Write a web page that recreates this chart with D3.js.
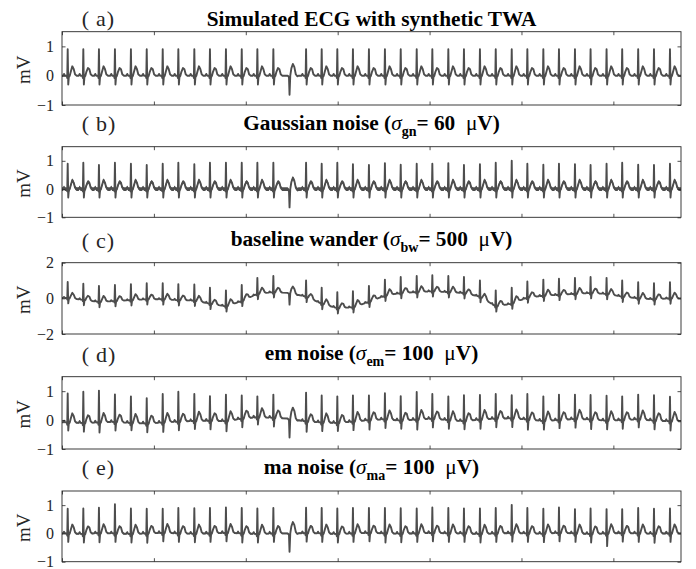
<!DOCTYPE html>
<html><head><meta charset="utf-8">
<script src="https://cdn.jsdelivr.net/npm/d3@7"></script>
</head><body style="margin:0;background:#fff">
<svg id="chart" width="696" height="569" font-family="Liberation Serif" style="display:block"></svg>
<script>
// ---------- data ----------
// R-peak times (s) of the 39 beats; beat 14 is the ectopic (PVC) beat
const beatTimes = [0.31,1.16,2.01,2.88,3.75,4.61,5.48,6.33,7.20,8.05,8.92,9.78,10.63,11.50,12.38,13.28,14.13,14.98,15.83,16.70,17.57,18.43,19.30,20.15,21.02,21.87,22.74,23.60,24.47,25.32,26.19,27.04,27.91,28.76,29.63,30.48,31.35,32.21,33.08];
const pvcIndex = 14;
// normal beat template: offsets from R (s) and values (mV); R = idx 5, S = idx 6, T = idx 10
const beatOffsets = [-0.25,-0.2,-0.15,-0.05,-0.025,0,0.03,0.06,0.11,0.16,0.25,0.33,0.4,0.48];
const beatShape   = [0,0.06,0,0,-0.08,0.9,-0.3,-0.05,0,0.12,0.3,0.22,0.05,0];
// ectopic beat template
const pvcOffsets = [-0.1,-0.03,0,0.04,0.1,0.18,0.26,0.34,0.42,0.5];
const pvcShape   = [0,-0.05,-0.65,0,0.25,0.4,0.3,0.05,-0.02,0];
// alternating T-wave amplitudes (TWA)
const tWave = [0.32,0.26,0.32,0.26,0.32,0.26,0.32,0.26,0.32,0.26,0.32,0.26,0.32,0.26,0.32,0.26,0.32,0.26,0.32,0.26,0.32,0.26,0.32,0.26,0.32,0.26,0.32,0.26,0.32,0.26,0.32,0.26,0.32,0.26,0.32,0.26,0.32,0.26,0.32];
// per-beat R amplitudes (above baseline)
const rPeakA = [0.9,0.9,0.9,0.9,0.9,0.9,0.9,0.9,0.9,0.9,0.9,0.9,0.9,0.9,0,0.9,0.9,0.9,0.9,0.9,0.9,0.9,0.9,0.9,0.9,0.9,0.9,0.9,0.9,0.9,0.9,0.9,0.9,0.9,0.9,0.9,0.9,0.9,0.9];
const rPeakB = [0.9,0.93,0.85,0.93,0.9,0.85,0.9,0.93,0.88,0.93,0.93,0.93,0.93,0.93,0,0.93,0.9,0.93,0.88,0.85,0.92,0.86,0.9,0.9,0.92,0.85,0.88,0.93,1.0,0.9,0.86,0.9,0.88,0.85,0.9,0.93,0.86,0.85,0.9];
const rPeakD = [1.0,1.08,1.1,0.95,0.92,0.88,0.98,1.03,0.93,0.85,0.92,0.8,0.72,0.8,0,1.0,0.93,0.92,0.9,0.85,0.9,0.85,0.95,0.85,0.82,0.9,0.85,0.85,0.8,0.88,0.85,0.88,0.84,0.85,0.86,0.82,0.85,0.88,0.85];
const rPeakE = [0.87,0.9,0.9,1.03,0.9,0.87,0.85,0.9,0.9,0.9,0.9,0.9,0.9,0.9,0,0.9,0.9,0.9,0.9,0.88,0.9,0.9,0.88,0.9,0.9,0.88,0.9,0.9,1.0,0.9,0.88,0.9,0.86,0.9,0.86,0.85,0.9,0.88,0.88];
// per-beat S depths
const sWaveStd = [-0.3,-0.3,-0.3,-0.3,-0.3,-0.3,-0.3,-0.3,-0.3,-0.3,-0.3,-0.3,-0.3,-0.3,-0.3,-0.3,-0.3,-0.3,-0.3,-0.3,-0.3,-0.3,-0.3,-0.3,-0.3,-0.3,-0.3,-0.3,-0.3,-0.3,-0.3,-0.3,-0.3,-0.3,-0.3,-0.3,-0.3,-0.3,-0.3];
const sWaveD = [-0.28,-0.3,-0.35,-0.3,-0.25,-0.3,-0.33,-0.3,-0.28,-0.3,-0.35,-0.3,-0.25,-0.3,-0.3,-0.35,-0.3,-0.28,-0.3,-0.33,-0.3,-0.28,-0.35,-0.3,-0.3,-0.28,-0.32,-0.3,-0.3,-0.35,-0.3,-0.28,-0.3,-0.33,-0.3,-0.3,-0.28,-0.3,-0.32];
const sWaveE = [-0.3,-0.3,-0.32,-0.3,-0.3,-0.33,-0.3,-0.3,-0.3,-0.3,-0.3,-0.32,-0.3,-0.3,-0.3,-0.3,-0.3,-0.3,-0.3,-0.3,-0.32,-0.3,-0.3,-0.3,-0.3,-0.3,-0.3,-0.3,-0.3,-0.3,-0.3,-0.3,-0.3,-0.3,-0.45,-0.3,-0.3,-0.32,-0.3];
// per-beat baseline levels (mV)
const baseZero = [0,0,0,0,0,0,0,0,0,0,0,0,0,0,0,0,0,0,0,0,0,0,0,0,0,0,0,0,0,0,0,0,0,0,0,0,0,0,0];
const baseC = [0.02,-0.08,-0.2,-0.15,-0.1,-0.05,-0.05,-0.1,-0.12,-0.3,-0.45,-0.15,0.25,0.35,0.3,0.1,-0.3,-0.55,-0.5,-0.2,0.15,0.3,0.35,0.4,0.35,0.3,0.1,-0.45,-0.3,0.05,0.15,0.2,0.25,0.3,0.25,0.1,0.0,-0.05,0.0];
const baseD = [-0.08,-0.1,-0.08,-0.06,-0.1,-0.12,-0.08,-0.05,-0.03,-0.02,-0.04,0.05,0.1,0.08,0.05,-0.05,-0.08,-0.1,-0.05,0.0,0.03,-0.02,0.02,0.05,0.0,-0.04,0.02,0.05,0.06,0.02,-0.03,0.0,0.04,0.02,-0.02,0.0,0.03,-0.02,-0.04];
const baseE = [0,-0.02,0.01,0,-0.02,0,0.02,0,-0.01,0,0.02,0,-0.02,0,0,0.01,0,-0.02,0,0.02,0,-0.01,0,0.02,0,0,-0.02,0,0.01,0,-0.01,0.02,0,-0.02,0,0.01,0,-0.01,0];
// axis ticks
const xDomain = [0, 33.68];
const xTicks = [0,5,10,15,20,25,30];
const yTicksSmall = [-1,0,1];
const yTicksLarge = [-2,0,2];

// ---------- layout ----------
const FONT = "Liberation Serif, Times New Roman, serif";
const left = 62, right = 681;
const panels = [
  {label:"a", top:31.7, bottom:105, yDomain:[-1,1.5], yTicks:yTicksSmall, r:rPeakA, s:sWaveStd, base:baseZero, band:0,
   titleY:26, labelY:25.5, title:[{t:"Simulated ECG with synthetic TWA"}]},
  {label:"b", top:146.7, bottom:217.3, yDomain:[-1,1.5], yTicks:yTicksSmall, r:rPeakB, s:sWaveStd, base:baseZero, band:0.065,
   titleY:129.5, labelY:131, title:[{t:"Gaussian noise ("},{t:"σ",it:1},{t:"gn",sub:1},{t:"= 60  "},{t:"μ",n:1},{t:"V)"}]},
  {label:"c", top:262.7, bottom:334, yDomain:[-2,2], yTicks:yTicksLarge, r:rPeakA, s:sWaveStd, base:baseC, band:0,
   titleY:246, labelY:247.5, title:[{t:"baseline wander ("},{t:"σ",it:1},{t:"bw",sub:1},{t:"= 500  "},{t:"μ",n:1},{t:"V)"}]},
  {label:"d", top:376.7, bottom:449, yDomain:[-1,1.5], yTicks:yTicksSmall, r:rPeakD, s:sWaveD, base:baseD, band:0.02,
   titleY:360, labelY:361.5, title:[{t:"em noise ("},{t:"σ",it:1},{t:"em",sub:1},{t:"= 100  "},{t:"μ",n:1},{t:"V)"}]},
  {label:"e", top:491, bottom:561.7, yDomain:[-1,1.5], yTicks:yTicksSmall, r:rPeakE, s:sWaveE, base:baseE, band:0.025,
   titleY:473.5, labelY:475, title:[{t:"ma noise ("},{t:"σ",it:1},{t:"ma",sub:1},{t:"= 100  "},{t:"μ",n:1},{t:"V)"}]}
];

function baselineAt(t, base){
  if (t <= beatTimes[0]) return base[0];
  const n = beatTimes.length;
  if (t >= beatTimes[n-1]) return base[n-1];
  const k = d3.bisectRight(beatTimes, t) - 1;
  const f = (t - beatTimes[k]) / (beatTimes[k+1] - beatTimes[k]);
  return base[k] * (1 - f) + base[k+1] * f;
}

function buildTrace(p){
  const pts = [[xDomain[0], p.base[0]]];
  beatTimes.forEach((t0, i) => {
    const pvc = i === pvcIndex;
    const offs = pvc ? pvcOffsets : beatOffsets;
    const shp = pvc ? pvcShape : beatShape;
    offs.forEach((dt, j) => {
      let v = shp[j];
      if (!pvc) {
        if (j === 5) v = p.r[i];
        if (j === 6) v = p.s[i];
        if (j === 10) v = tWave[i];
      }
      const t = t0 + dt;
      if (t >= xDomain[0]) pts.push([t, v + baselineAt(t, p.base)]);
    });
  });
  pts.push([xDomain[1], p.base[p.base.length-1]]);
  return pts;
}

const svg = d3.select("#chart");
const x = d3.scaleLinear().domain(xDomain).range([left, right]);
const lineColor = "#4d4d4d", axisColor = "#262626";

panels.forEach((p, pi) => {
  const y = d3.scaleLinear().domain(p.yDomain).range([p.bottom, p.top]);
  const g = svg.append("g").attr("font-family", FONT);
  const clipId = "clip" + pi;
  svg.append("clipPath").attr("id", clipId).append("rect")
    .attr("x", left).attr("y", p.top).attr("width", right - left).attr("height", p.bottom - p.top);

  const pts = buildTrace(p);
  const pg = g.append("g").attr("clip-path", `url(#${clipId})`);
  if (p.band > 0) {
    pg.append("path").datum(pts)
      .attr("d", d3.area().x(d => x(d[0])).y0(d => y(d[1] - p.band)).y1(d => y(d[1] + p.band)))
      .attr("fill", lineColor);
  }
  pg.append("path").datum(pts)
    .attr("d", d3.line().x(d => x(d[0])).y(d => y(d[1])))
    .attr("fill", "none").attr("stroke", lineColor)
    .attr("stroke-width", 1.9).attr("stroke-linejoin", "round").attr("stroke-linecap", "round");

  // axes (ticks inward)
  const styleAxis = sel => {
    sel.attr("font-family", FONT).attr("font-size", 16);
    sel.select(".domain").remove();
    sel.selectAll("line").attr("stroke", axisColor).attr("stroke-width", 0.8);
    sel.selectAll("text").attr("font-size", 16).attr("fill", axisColor).attr("font-family", FONT);
  };
  g.append("g").attr("transform", `translate(${left},0)`)
    .call(d3.axisLeft(y).tickValues(p.yTicks).tickSizeInner(-3.5).tickSizeOuter(0).tickPadding(8).tickFormat(d3.format("d")))
    .call(styleAxis);
  g.append("g").attr("transform", `translate(${right},0)`)
    .call(d3.axisRight(y).tickValues(p.yTicks).tickSizeInner(-3.5).tickSizeOuter(0).tickFormat(""))
    .call(styleAxis);
  g.append("g").attr("transform", `translate(0,${p.bottom})`)
    .call(d3.axisBottom(x).tickValues(xTicks).tickSizeInner(-3.5).tickSizeOuter(0).tickFormat(""))
    .call(styleAxis);
  g.append("g").attr("transform", `translate(0,${p.top})`)
    .call(d3.axisTop(x).tickValues(xTicks).tickSizeInner(-3.5).tickSizeOuter(0).tickFormat(""))
    .call(styleAxis);
  g.append("rect").attr("x", left).attr("y", p.top).attr("width", right - left).attr("height", p.bottom - p.top)
    .attr("fill", "none").attr("stroke", axisColor).attr("stroke-width", 0.9);

  // y label
  const cy = (p.top + p.bottom) / 2 + 1.5;
  g.append("text").attr("transform", `translate(30,${cy}) rotate(-90)`)
    .attr("text-anchor", "middle").attr("font-size", 19).attr("font-family", FONT).attr("fill", axisColor).text("mV");

  // panel label
  g.append("text").attr("x", 81.7).attr("y", p.labelY).attr("font-size", 22).attr("font-family", FONT)
    .attr("fill", axisColor).attr("letter-spacing", 0.8).attr("xml:space", "preserve").text(`( ${p.label})`);

  // title
  const tt = g.append("text").attr("x", (left + right) / 2).attr("y", p.titleY)
    .attr("text-anchor", "middle").attr("font-size", 21.3).attr("font-weight", "bold")
    .attr("font-family", FONT).attr("fill", "#000")
    .attr("xml:space", "preserve").style("white-space", "pre");
  let shifted = false;
  p.title.forEach(part => {
    const ts = tt.append("tspan").text(part.t);
    if (part.it) ts.attr("font-style", "italic").attr("font-weight", "normal");
    if (part.n) ts.attr("font-weight", "normal");
    if (part.sub) { ts.attr("font-size", 14).attr("dy", 6); shifted = true; }
    else if (shifted) { ts.attr("dy", -6); shifted = false; }
  });
});
</script>
</body></html>
